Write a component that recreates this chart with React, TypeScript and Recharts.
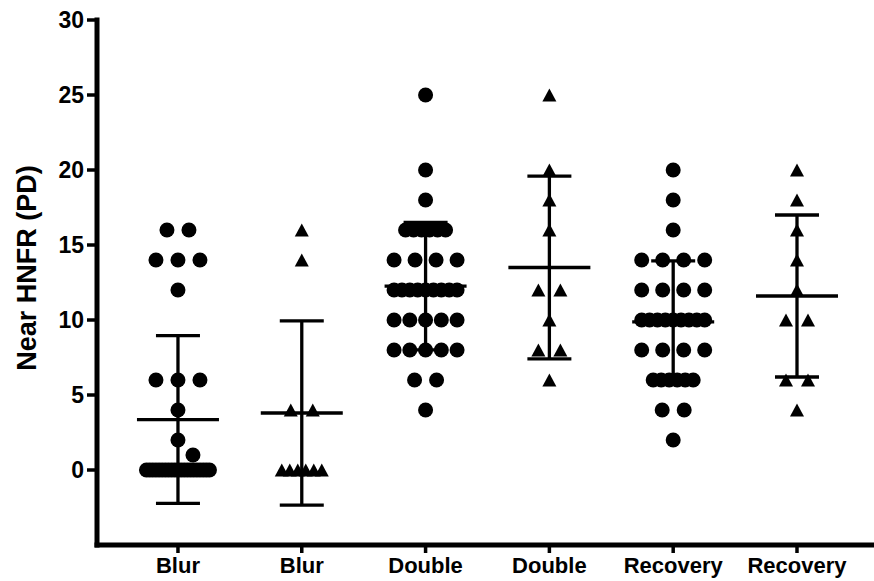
import React from 'react';
import { ScatterChart, Scatter, XAxis, YAxis, ErrorBar } from 'recharts';

const categories = ['Blur', 'Blur', 'Double', 'Double', 'Recovery', 'Recovery'];
const symbols = ['circle', 'triangle', 'circle', 'triangle', 'circle', 'triangle'];
const yTicks = [0, 5, 10, 15, 20, 25, 30];

const blurCircles = [
  16, 16, 14, 14, 14, 12, 6, 6, 6, 4, 2, 1,
  0, 0, 0, 0, 0, 0, 0, 0, 0, 0, 0, 0, 0, 0, 0, 0, 0, 0, 0, 0, 0,
];
const blurTriangles = [16, 14, 4, 4, 0, 0, 0, 0, 0, 0];
const doubleCircles = [
  25, 20, 18, 16, 16, 16, 16, 16, 16, 14, 14, 14, 14,
  12, 12, 12, 12, 12, 12, 12, 12, 12, 10, 10, 10, 10, 10,
  8, 8, 8, 8, 8, 6, 6, 4,
];
const doubleTriangles = [25, 20, 18, 16, 12, 12, 10, 8, 8, 6];
const recoveryCircles = [
  20, 18, 16, 14, 14, 14, 14, 12, 12, 12, 12,
  10, 10, 10, 10, 10, 10, 10, 10, 10, 8, 8, 8, 8,
  6, 6, 6, 6, 6, 6, 4, 4, 2,
];
const recoveryTriangles = [20, 18, 16, 14, 12, 10, 10, 6, 6, 4];

const groups = [blurCircles, blurTriangles, doubleCircles, doubleTriangles, recoveryCircles, recoveryTriangles];

const W = 874;
const H = 581;
const TOP = 20;
const AXIS_H = 36;
const AXIS_W = 97;
const Y_MIN = -5;
const Y_MAX = 30;
const PX_PER_UNIT = (H - TOP - AXIS_H) / (Y_MAX - Y_MIN);

const DOT = 15;
const ROW_GAP = 22; // widest spacing for a short row
const ROW_SPAN = 63; // widest a row may get
const OVERLAP_GAP = 8; // spacing once symbols have to overlap
const FONT = '"Liberation Sans", Arial, Helvetica, sans-serif';

// lay equal values out side by side; long rows overlap, lone points step off neighbours
function spread(values: number[]) {
  const counts = new Map<number, number>();
  values.forEach((v) => counts.set(v, (counts.get(v) ?? 0) + 1));
  const rows = [...counts.keys()].sort((a, b) => b - a);
  const placed: { dx: number; y: number }[] = [];
  for (const v of rows) {
    const k = counts.get(v)!;
    let step = 0;
    if (k > 1) {
      step = Math.min(ROW_GAP, ROW_SPAN / (k - 1));
      if (step < DOT) step = Math.min(OVERLAP_GAP, ROW_SPAN / (k - 1));
    }
    let shift = 0;
    if (k === 1) {
      const hits = (s: number) =>
        placed.some((p) => Math.hypot(p.dx - s, (p.y - v) * PX_PER_UNIT) < DOT + 0.5);
      for (const s of [0, DOT, -DOT]) {
        if (!hits(s)) {
          shift = s;
          break;
        }
      }
    }
    for (let j = 0; j < k; j++) placed.push({ dx: shift + (j - (k - 1) / 2) * step, y: v });
  }
  return placed;
}

const points = groups.map((vals, i) =>
  spread(vals).map((p) => ({ x: i, y: p.y, dx: p.dx, symbol: symbols[i] }))
);

const summary = groups.map((vals, i) => {
  const n = vals.length;
  const mean = vals.reduce((a, b) => a + b, 0) / n;
  const sd = Math.sqrt(vals.reduce((a, b) => a + (b - mean) ** 2, 0) / (n - 1));
  return { x: i, y: mean, sd };
});

const Marker = (props: any) => {
  const { cx, cy, payload } = props;
  const x = cx + payload.dx;
  if (payload.symbol === 'circle') return <circle cx={x} cy={cy} r={DOT / 2} fill="#000" />;
  return <polygon points={`${x},${cy - 6.5} ${x + 7},${cy + 6.5} ${x - 7},${cy + 6.5}`} fill="#000" />;
};

const MeanLine = (props: any) => {
  const { cx, cy } = props;
  return <line x1={cx - 41} x2={cx + 41} y1={cy} y2={cy} stroke="#000" strokeWidth={3.3} />;
};

const AxisTitle = () => (
  <text
    x={27}
    y={268}
    transform="rotate(-90, 27, 268)"
    textAnchor="middle"
    dominantBaseline="central"
    fontFamily={FONT}
    fontWeight="bold"
    fontSize={27}
    fill="#000"
  >
    Near HNFR (PD)
  </text>
);

export default function App() {
  const yTickStyle = { fill: '#000', fontSize: 23, fontWeight: 'bold', fontFamily: FONT };
  const xTickStyle = { fill: '#000', fontSize: 22, fontWeight: 'bold', fontFamily: FONT };
  return (
    <div style={{ position: 'absolute', left: 0, top: 0, background: '#fff' }}>
      <ScatterChart width={W} height={H} margin={{ top: TOP, right: 0, bottom: 0, left: 0 }}>
        <XAxis
          type="number"
          dataKey="x"
          domain={[-0.654, 5.622]}
          ticks={[0, 1, 2, 3, 4, 5]}
          tickFormatter={(v) => categories[v] ?? ''}
          allowDataOverflow
          interval={0}
          height={AXIS_H}
          tick={xTickStyle}
          tickSize={8}
          tickMargin={4}
          tickLine={{ stroke: '#000', strokeWidth: 3.5 }}
          axisLine={{ stroke: '#000', strokeWidth: 5, strokeLinecap: 'square' }}
        />
        <YAxis
          type="number"
          dataKey="y"
          domain={[Y_MIN, Y_MAX]}
          ticks={yTicks}
          allowDataOverflow
          width={AXIS_W}
          tick={yTickStyle}
          tickSize={10}
          tickMargin={3}
          tickLine={{ stroke: '#000', strokeWidth: 3.5 }}
          axisLine={{ stroke: '#000', strokeWidth: 5, strokeLinecap: 'square' }}
          label={{ content: () => <AxisTitle /> }}
        />
        {points.map((data, i) => (
          <Scatter key={i} data={data} shape={<Marker />} isAnimationActive={false} />
        ))}
        <Scatter data={summary} shape={<MeanLine />} isAnimationActive={false}>
          <ErrorBar dataKey="sd" direction="y" width={22} stroke="#000" strokeWidth={3.3} isAnimationActive={false} />
        </Scatter>
      </ScatterChart>
    </div>
  );
}
